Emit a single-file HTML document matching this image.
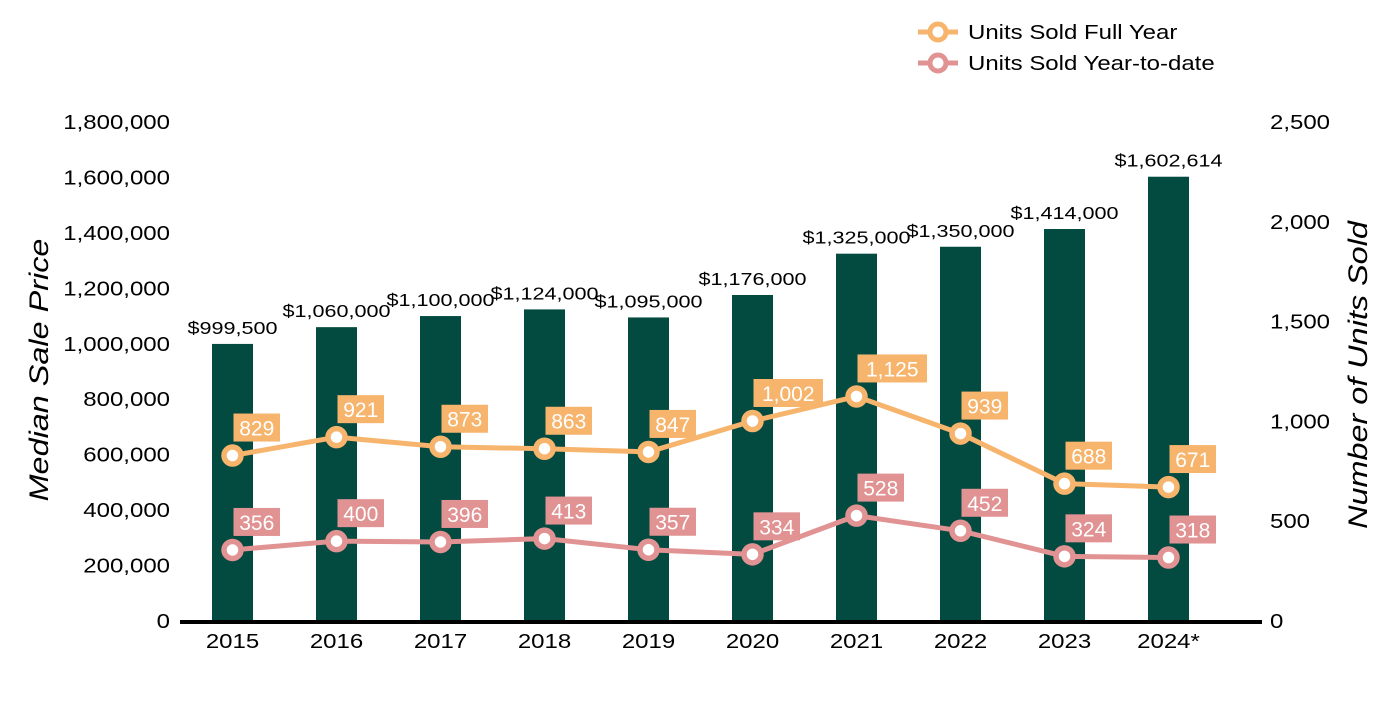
<!DOCTYPE html>
<html><head><meta charset="utf-8"><style>
body{margin:0;background:#fff;width:1400px;height:700px;overflow:hidden}
svg{font-family:"Liberation Sans",Arial,sans-serif}
</style></head><body>
<svg id="chart" width="1400" height="700"></svg>
<script>
const categories=["2015","2016","2017","2018","2019","2020","2021","2022","2023","2024*"];
const medianPrice=[999500,1060000,1100000,1124000,1095000,1176000,1325000,1350000,1414000,1602614];
const unitsFull=[829,921,873,863,847,1002,1125,939,688,671];
const unitsYtd=[356,400,396,413,357,334,528,452,324,318];
const leftTicks=[0,200000,400000,600000,800000,1000000,1200000,1400000,1600000,1800000];
const rightTicks=[0,500,1000,1500,2000,2500];

const NS="http://www.w3.org/2000/svg";
const svg=document.getElementById('chart');
const y0=621,yTop=122;
const yL=v=>y0-(v/1800000)*(y0-yTop);
const yR=v=>y0-(v/2500)*(y0-yTop);
const xC=i=>232.5+i*104;
const SX=1.2;
function mk(tag,attrs,text){const e=document.createElementNS(NS,tag);for(const k in attrs)e.setAttribute(k,attrs[k]);if(text!==undefined)e.textContent=text;svg.appendChild(e);return e;}
function st(x,y,text,size,anchor,rot){
 const tr='translate('+x+','+y+')'+(rot?' rotate(-90)':'')+' scale('+SX+',1)';
 return mk('text',{transform:tr,'text-anchor':anchor,'font-size':size,fill:'#000'},text);
}
const fmt=v=>v.toLocaleString('en-US');

leftTicks.forEach(t=>{const e=st(170,yL(t)+7,fmt(t),20,'end');

});
rightTicks.forEach(t=>{const e=st(1270,yR(t)+7,fmt(t),20,'start');

});
let t1=st(48,370,'Median Sale Price',27,'middle',true);
t1.setAttribute('font-style','italic');


let t2=st(1367,375,'Number of Units Sold',27,'middle',true);
t2.setAttribute('font-style','italic');



categories.forEach((c,i)=>{
 const b=mk('rect',{x:xC(i)-20.5,y:yL(medianPrice[i]),width:41,height:y0-yL(medianPrice[i]),fill:'#034a40'});
 
 
 const l=st(xC(i),yL(medianPrice[i])-10,'$'+fmt(medianPrice[i]),18,'middle');
 
 
 const x=st(xC(i),648,c,20,'middle');
 
 
});
const ax=mk('line',{x1:180,x2:1262,y1:y0+1,y2:y0+1,stroke:'#000','stroke-width':4});



function series(vals,color,name){
 const p=mk('polyline',{points:vals.map((v,i)=>xC(i)+','+yR(v)).join(' '),fill:'none',stroke:color,'stroke-width':5});
 
 
 vals.forEach((v,i)=>{
  const c=mk('circle',{cx:xC(i),cy:yR(v),r:8.5,fill:'#fff',stroke:color,'stroke-width':5.5});
  
  
  const s=fmt(v);const w=s.length*11.5+12;
  const r=mk('rect',{x:xC(i)+1,y:yR(v)-42,width:w,height:28,fill:color});
  
  
  const t=mk('text',{x:xC(i)+1+w/2,y:yR(v)-20,'text-anchor':'middle','font-size':21,fill:'#fff'},s);
  
  
 });
}
series(unitsFull,'#f6b46c','units-full-year');
series(unitsYtd,'#e19293','units-ytd');

[['Units Sold Full Year','#f6b46c',32],['Units Sold Year-to-date','#e19293',63]].forEach(([n,c,y])=>{
 const l=mk('line',{x1:918,x2:958,y1:y,y2:y,stroke:c,'stroke-width':5});
 
 
 const ci=mk('circle',{cx:938,cy:y,r:8,fill:'#fff',stroke:c,'stroke-width':5});
 
 
 const t=st(968,y+7,n,20,'start');
 
 
});
</script>
</body></html>
